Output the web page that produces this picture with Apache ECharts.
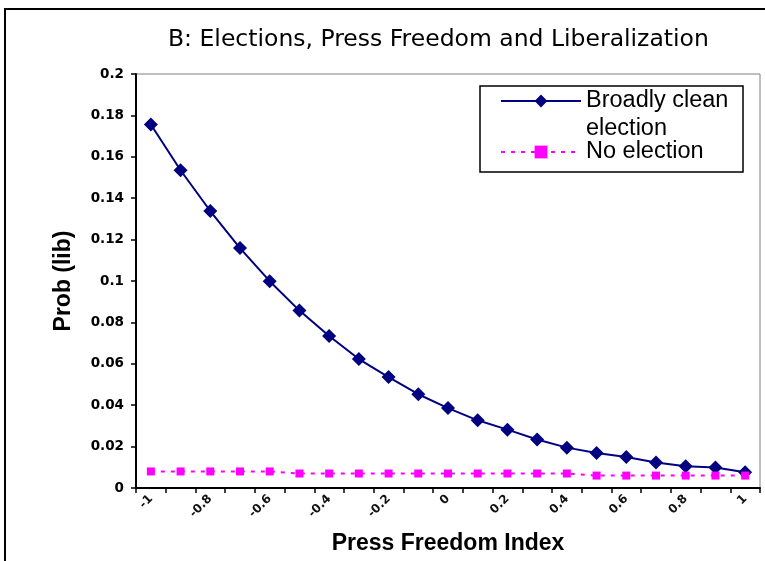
<!DOCTYPE html>
<html>
<head>
<meta charset="utf-8">
<script src="https://cdn.jsdelivr.net/npm/echarts@6/dist/echarts.min.js"></script>
<style>
html,body{margin:0;padding:0;background:#fff;}
#chart{width:765px;height:561px;}
</style>
</head>
<body>
<div id="chart"></div>
<script>
var categories = ['-1','-0.9','-0.8','-0.7','-0.6','-0.5','-0.4','-0.3','-0.2','-0.1','0','0.1','0.2','0.3','0.4','0.5','0.6','0.7','0.8','0.9','1'];
var cleanElection = [0.1756,0.1535,0.1338,0.1159,0.0999,0.0857,0.0734,0.0623,0.0536,0.0453,0.0386,0.0327,0.0282,0.0234,0.0195,0.0169,0.0150,0.0123,0.0105,0.0099,0.0076];
var noElection = [0.008,0.008,0.008,0.008,0.008,0.007,0.007,0.007,0.007,0.007,0.007,0.007,0.007,0.007,0.007,0.006,0.006,0.006,0.006,0.006,0.006];
var seriesNames = ['Broadly clean election','No election'];
var titleText = 'B: Elections, Press Freedom and Liberalization';

var chart = echarts.init(document.getElementById('chart'), null, {renderer:'canvas'});
var option = {
  animation:false,
  backgroundColor:'#ffffff',
  title:{
    text:titleText,
    left:163, top:23,
    textStyle:{fontFamily:'DejaVu Sans',fontWeight:'normal',fontSize:23.5,color:'#000'}
  },
  graphic:[
    {type:'rect',shape:{x:5,y:9,width:800,height:600},style:{fill:'none',stroke:'#000',lineWidth:2},silent:true},
    {type:'rect',shape:{x:480,y:86,width:263,height:86},style:{fill:'#fff',stroke:'#000',lineWidth:1.5},silent:true,z:5}
  ],
  legend:[
    {
      data:[seriesNames[0]], left:500, top:59, orient:'vertical', padding:0,
      itemWidth:80, itemHeight:16, itemGap:0, z:10,
      formatter:function(){return '\nBroadly clean\nelection';},
      textStyle:{fontFamily:'Liberation Sans',fontSize:23.5,color:'#000',lineHeight:28}
    },
    {
      data:[seriesNames[1]], left:500, top:140, orient:'vertical', padding:0,
      itemWidth:80, itemHeight:16, itemGap:0, z:10,
      textStyle:{fontFamily:'Liberation Sans',fontSize:23.5,color:'#000',lineHeight:24}
    }
  ],
  grid:{left:136,right:5,top:74,bottom:73,show:true,borderColor:'#808080',borderWidth:1,backgroundColor:'#fff'},
  xAxis:{
    type:'category', data:categories, boundaryGap:true,
    name:'Press Freedom Index', nameLocation:'middle', nameGap:44,
    nameTextStyle:{fontFamily:'Liberation Sans',fontWeight:'bold',fontSize:23,color:'#000',verticalAlign:'top'},
    axisLine:{lineStyle:{color:'#000',width:2}},
    axisTick:{show:true,interval:0,length:5,lineStyle:{color:'#000',width:1.5}},
    axisLabel:{interval:1,rotate:45,margin:9,fontFamily:'DejaVu Sans',fontWeight:'bold',fontSize:12,color:'#111'},
    splitLine:{show:false}
  },
  yAxis:{
    type:'value', min:0, max:0.2, interval:0.02,
    name:'Prob (lib)', nameLocation:'middle', nameGap:61, nameRotate:90,
    nameTextStyle:{fontFamily:'Liberation Sans',fontWeight:'bold',fontSize:23,color:'#000',verticalAlign:'bottom'},
    axisLine:{show:true,lineStyle:{color:'#000',width:2}},
    axisTick:{show:true,length:5,lineStyle:{color:'#000',width:1.5}},
    axisLabel:{margin:12,fontFamily:'DejaVu Sans',fontWeight:'bold',fontSize:13.5,color:'#000'},
    splitLine:{show:false}
  },
  series:[
    {
      name:seriesNames[0], type:'line', data:cleanElection,
      symbol:'diamond', symbolSize:14,
      itemStyle:{color:'#000080'},
      lineStyle:{color:'#000080',width:2}
    },
    {
      name:seriesNames[1], type:'line', data:noElection,
      symbol:'rect', symbolSize:8,
      itemStyle:{color:'#ff00ff'},
      lineStyle:{color:'#ff00ff',width:2,type:[4,6]}
    }
  ]
};
chart.setOption(option);
</script>
</body>
</html>
